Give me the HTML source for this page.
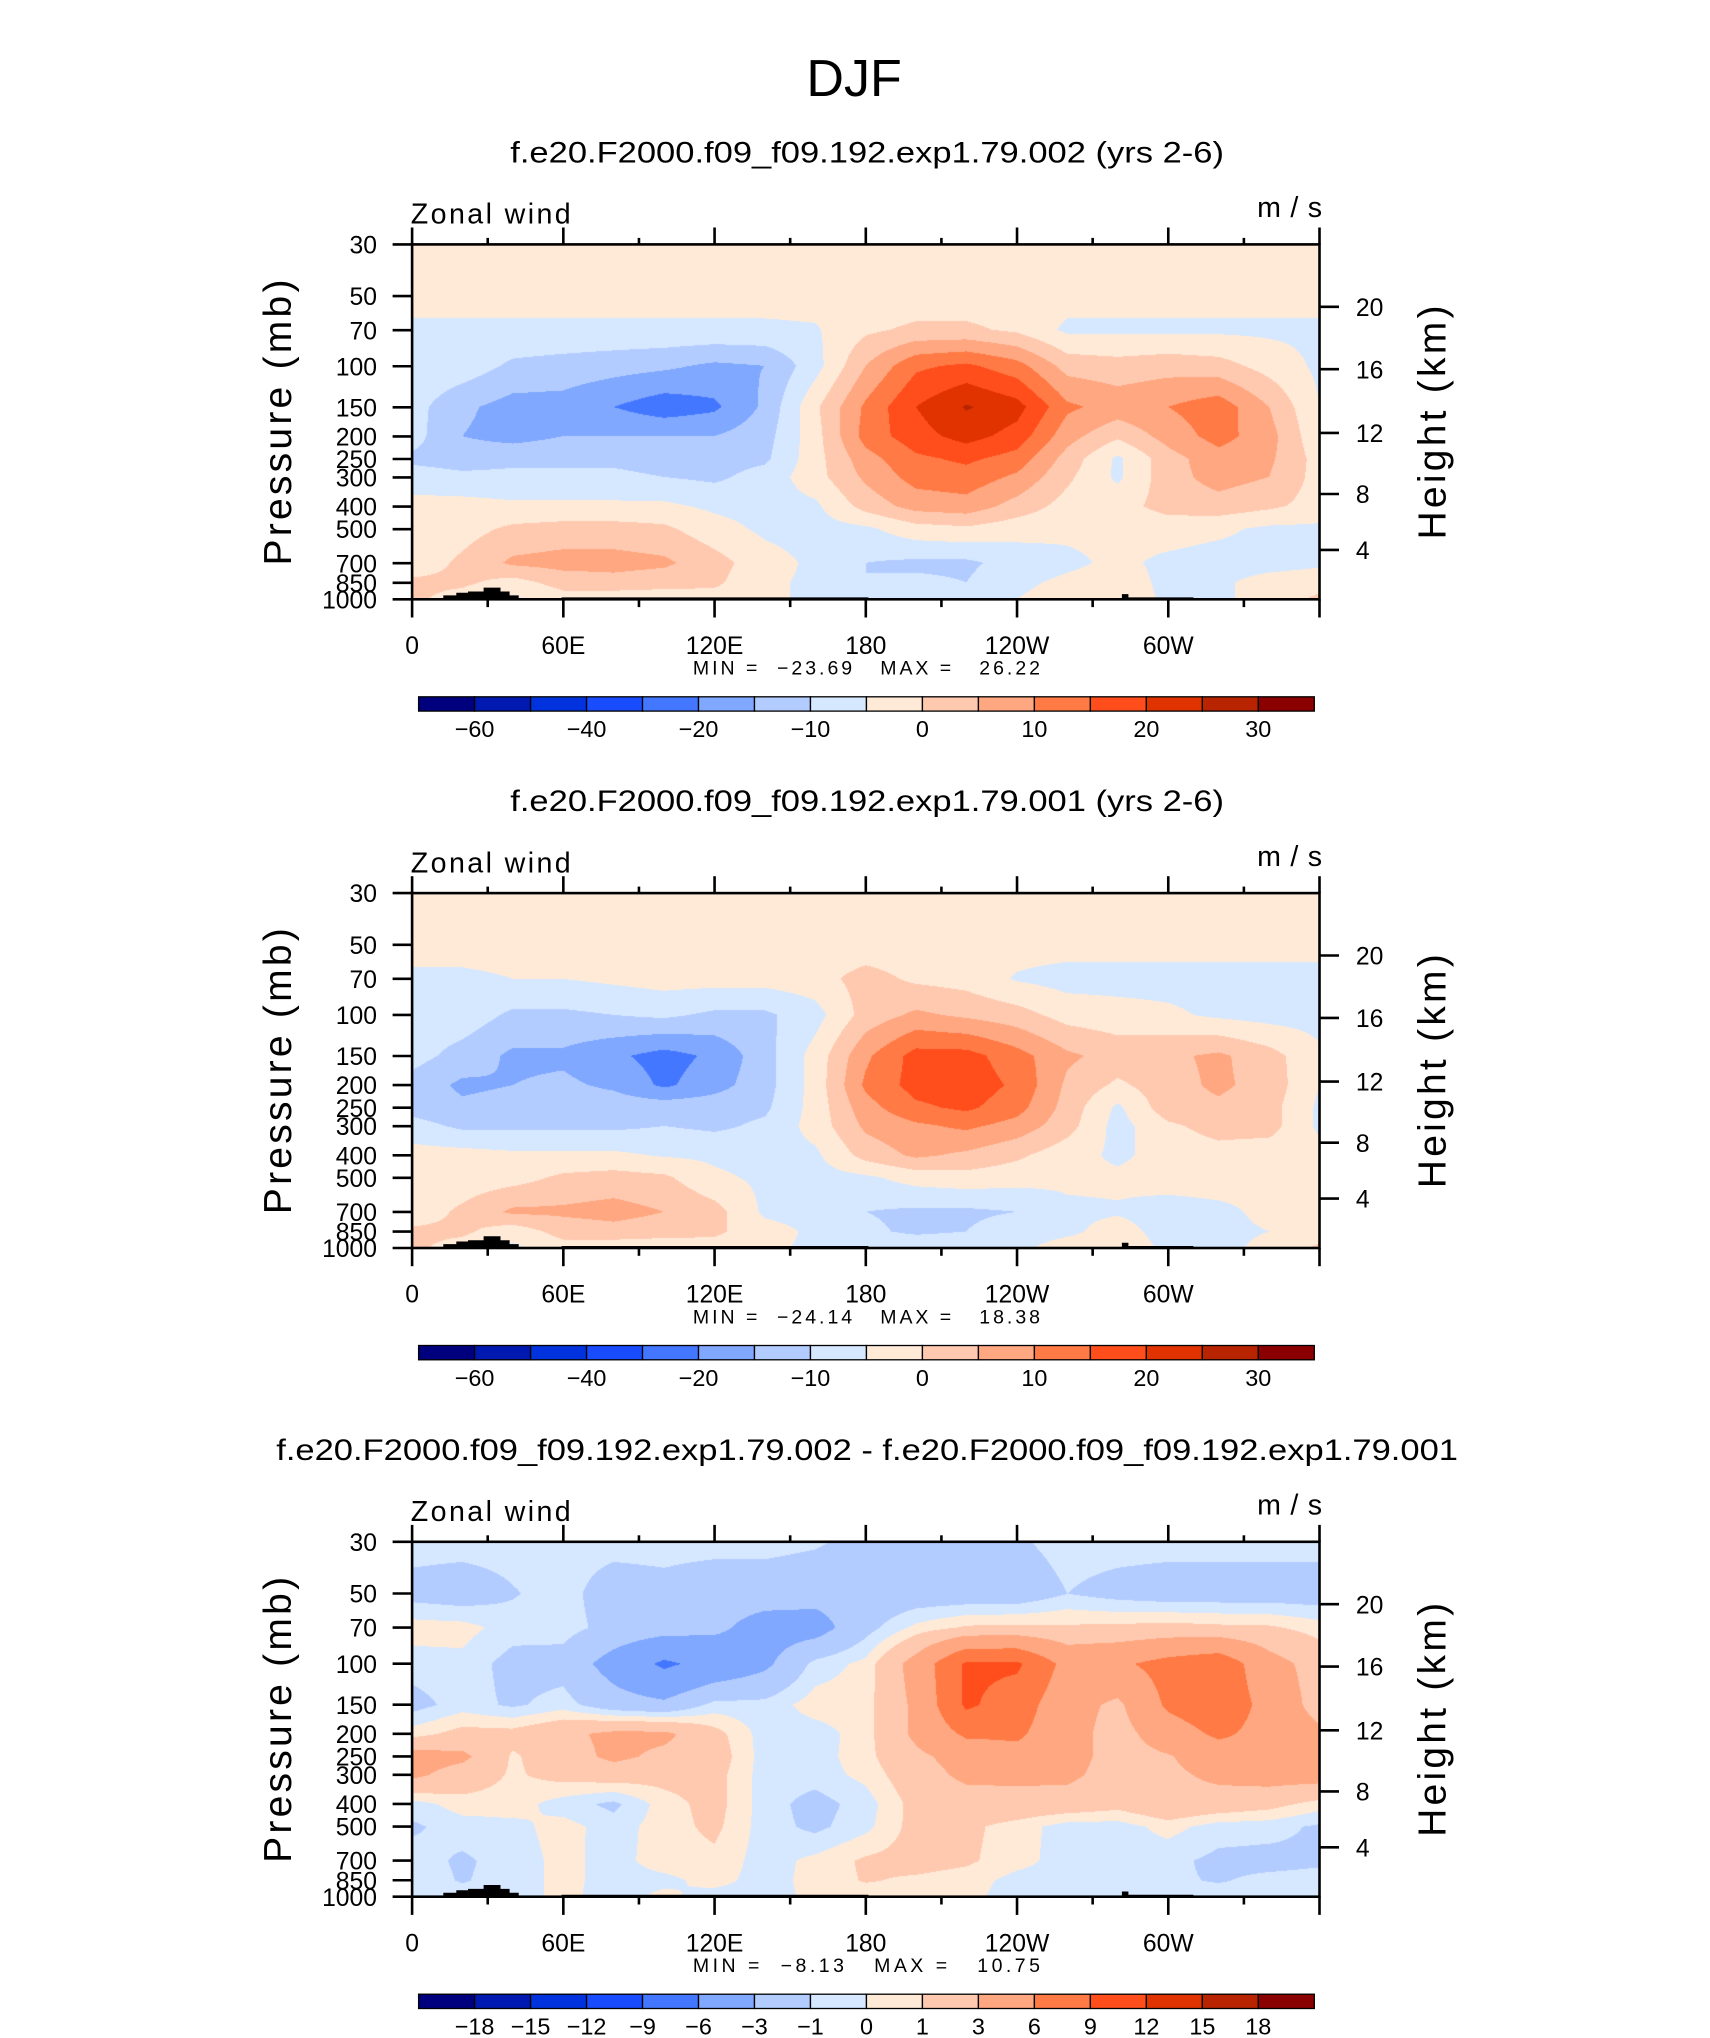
<!DOCTYPE html>
<html><head><meta charset="utf-8"><title>DJF Zonal wind</title>
<style>
body{margin:0;background:#fff}
#root{position:relative;width:1710px;height:2038px;overflow:hidden;background:#fff}
canvas{position:absolute}
svg{position:absolute;left:0;top:0}
text{font-family:"Liberation Sans",sans-serif;fill:#000}
</style></head>
<body>
<div id="root">
<canvas id="f0"></canvas>
<canvas id="f1"></canvas>
<canvas id="f2"></canvas>
<svg id="svg" width="1710" height="2038" viewBox="0 0 1315.38 1567.69">
<text x="657" y="74" font-size="40" text-anchor="middle">DJF</text>
</svg>
</div>
<script>
// ---------- data ----------
const lons=[0,20,40,60,80,100,120,140,160,180,200,220,240,260,280,300,320,340,360];
const plevs=[30,50,70,100,150,200,250,300,400,500,700,850,1000];
const pTickLabels=["30","50","70","100","150","200","250","300","400","500","700","850","1000"];
const kmTicks=[20,16,12,8,4];
const kmTickY=[236,284,333,380,423];
const lonTickVals=[0,60,120,180,240,300];
const lonTickLabels=["0","60E","120E","180","120W","60W"];
const levels1=[-60,-50,-40,-30,-20,-15,-10,-5,0,5,10,15,20,25,30];
const levels3=[-18,-15,-12,-9,-6,-3,-1,0,1,3,6,9,12,15,18];
const cbLabels1=["","−60","","−40","","−20","","−10","","0","","10","","20","","30"];
const cbLabels3=["","−18","−15","−12","−9","−6","−3","−1","0","1","3","6","9","12","15","18"];
const colors=['#00007f','#0019b0','#0033dd','#1a4cff','#4477ff','#80a8ff','#b3ccff','#d6e8ff','#ffead8','#ffc9b0','#ffa780','#ff7a45','#ff4e1c','#e03300','#b82300','#8b0000'];
const titles=["f.e20.F2000.f09_f09.192.exp1.79.002 (yrs 2-6)","f.e20.F2000.f09_f09.192.exp1.79.001 (yrs 2-6)","f.e20.F2000.f09_f09.192.exp1.79.002 - f.e20.F2000.f09_f09.192.exp1.79.001"];
const titleLen=[549,549,909];
const minVals=["−23.69","−24.14","−8.13"];
const maxVals=["26.22","18.38","10.75"];

const u1=[
[-2,-2,-2,-2,-2,-2,-2,-2,-2,-2,-2,-2,-2,-2,-2,-2,-2,-2,-2],
[-3,-3,-3,-3,-3,-3,-3,-3,-3,-3,-3,-3,-3,-3,-3,-3,-3,-3,-3],
[-6,-6,-6,-6,-6,-6,-6,-6,-5.5,-1,1,1,-1,-6,-6,-6,-6,-6,-6],
[-6,-7,-11,-12,-13,-14,-16,-15,-7,5,14,16,12,3,2,3,2,-2,-6],
[-8,-14,-17,-17,-20,-23,-21,-14,-1,11,20,25.5,22,11,8,10,13,5,-5],
[-8,-15,-17,-15,-15,-15,-15,-12,-2,12,18,22,18,7,1,7,12,7,-4],
[-11,-12,-11,-11,-11,-12,-12,-11,-2,8,14,16,13,3,-6,3,8,6,-2],
[-8,-9,-9,-9,-9,-10,-11,-8,-2,6,12,13,9,1,-6,3,7,5,-2],
[-3,-3,-4,-4,-4,-4,-6,-7,-6,2,7,8,3,-2,-2,2,3,1,-2],
[-3,-2,1,2,2,1,-3,-6,-7,-6,-2,-1,-3,-4,-4,-3,-4,-6,-6],
[-3,1,6,7,7,6,2,-3,-6,-10,-11,-11,-8,-6,-4,-6,-7,-7,-6],
[1,1,-2,2,3,2,1,-4,-6,-10,-9,-10,-6,-4,-3,-6,-6,-3,-2],
[1,-2,-6,-2,-3,-3,-2,-4,-6,-6,-6,-6,-5,-3,-2,-6,-6,-3,1]];
const u2=[
[-2,-2,-2,-2,-2,-2,-2,-2,-2,-2,-2,-2,-2,-2,-2,-2,-2,-2,-2],
[-3,-3,-3,-3,-3,-3,-3,-3,-3,-3,-3,-3,-3,-3,-3,-3,-3,-3,-3],
[-6,-6,-5,-5,-4,-3,-3,-3,-2,2,-1,-2,-5.5,-7,-7,-7,-7,-7,-7],
[-7,-7,-11,-11,-10,-9,-11,-11,-7,2,6,4,2,-2,-3,-4,-6,-7,-7],
[-8,-12,-16,-16,-19,-22,-19,-12,-3,9,17,17,12,6,3,4,6,2,-4],
[-12,-16,-15,-14,-16,-21,-17,-12,-3,11,17,18,14,4,-1,3,6,3,-5],
[-12,-14,-13,-12,-12,-12,-12,-11,-3,8,14,16,12,3,-6,3,4,2,-6],
[-8,-11,-11,-11,-11,-10,-11,-9,-3,6,9,11,8,2,-7,-1,2,2,-6],
[-3,-3,-4,-4,-4,-5.5,-6,-7,-6,2,6,4,1,-3,-6,-3,-2,-3,-3],
[-3,-3,-2,1,2,1,-4,-6,-7,-6,-3,-2,-3,-4,-4,-3,-3,-4,-4],
[-3,1,6,6,7,5,2,-6,-7,-10,-11,-11,-10,-6,-5.5,-7,-6,-4,-3],
[1,1,-3,2,3,2,1,-3,-6,-9,-11,-10,-7,-6,-3,-7,-6,-5,-3],
[1,-2,-6,-2,-3,-3,-2,-4,-6,-6,-6,-6,-6,-3,-2,-6,-6,-4,1]];
const du=[
[-0.5,-0.5,-0.5,-0.5,-0.5,-0.5,-0.5,-0.5,-0.8,-1.5,-1.5,-1.5,-1.2,-0.5,-0.5,-0.5,-0.5,-0.5,-0.5],
[-1.5,-1.8,-1.1,-0.5,-1.8,-1.5,-2,-2,-2.2,-2.2,-2,-2,-2,-1,-1.5,-1.8,-1.8,-1.8,-1.8],
[0.5,0.4,-0.5,-0.5,-1.5,-2,-2.5,-4,-4,-1.5,0.3,1.2,1.3,1.2,1.3,1.5,1.3,1.2,0.5],
[-0.5,-0.3,-1.5,-1.6,-4,-6.5,-5,-3.5,-0.6,0.3,4,9.5,9.5,5,5.5,7,8,4,2],
[-1.5,-0.5,-1.2,-0.5,-2,-2.5,-0.6,-0.6,0.5,0.5,3.5,9.5,7.5,4,2.5,6.5,8,5,2],
[0.5,1.5,1.5,2.5,3.5,3.5,1.5,-0.5,-0.5,0.5,3.5,6.5,6.5,4,2,4.5,6.5,5,3.5],
[4,3.5,0.8,2,3.5,2.5,1.8,-0.5,-0.5,0.6,2.5,4,5,4,2,2.8,4.5,5,4.5],
[3.5,2,0.8,1.5,1.8,1.5,1.5,-0.5,-0.5,0.3,2,3.5,3.5,3.5,2,2.5,3.5,4,4],
[-0.5,0.5,0.5,-0.5,-1.3,0.5,1.5,-0.5,-1.5,-0.5,1.5,2,2.2,2,1.5,2.5,2,1.5,0.5],
[-1.2,-0.5,-0.3,0.4,-0.5,0.5,1.3,-0.5,-1.3,-0.3,1.5,1.3,0.5,-0.5,-0.5,0.4,-0.5,-0.6,-1.2],
[-0.5,-1.2,-0.5,0.3,-0.4,0.5,0.7,-0.5,0.3,1.2,1.5,1.2,0.4,-0.5,-0.6,-0.7,-1.3,-1.4,-1.2],
[-0.4,-1.1,-0.5,0.3,-0.4,-0.3,0.4,-0.5,0.4,1.1,0.8,0.5,-0.4,-0.5,-0.6,-0.8,-1.1,-0.7,-0.6],
[-0.5,-0.5,-0.5,0.3,-0.5,0.3,-0.5,-0.5,0.3,0.4,0.4,0.3,-0.5,-0.5,-0.5,-0.5,-0.5,-0.5,-0.5]];

// ---------- layout ----------
const S=1710/1315.38;
const X0=317,X1=1015,Y0=188,PH=273;
const offsets=[0,499,998];
const fields=[u1,u2,du];
const levelSets=[levels1,levels1,levels3];
const cbLabelSets=[cbLabels1,cbLabels1,cbLabels3];
const NS="http://www.w3.org/2000/svg";
const svg=document.getElementById('svg');
const LN=Math.log(1000/30);
function xL(lon){return X0+(X1-X0)*lon/360;}
function yP(p,off){return off+Y0+PH*Math.log(p/30)/LN;}
function mk(tag,attrs,parent){const e=document.createElementNS(NS,tag);for(const k in attrs)e.setAttribute(k,attrs[k]);(parent||svg).appendChild(e);return e;}
function hex(c){return [parseInt(c.substr(1,2),16),parseInt(c.substr(3,2),16),parseInt(c.substr(5,2),16)];}
const rgb=colors.map(hex);

function classify(v,lv){let k=0;for(let i=0;i<lv.length;i++){if(v>=lv[i])k=i+1;}return k;}

function drawField(idx){
  const cv=document.getElementById('f'+idx);
  const off=offsets[idx];
  const W=Math.round((X1-X0)*S),H=Math.round(PH*S);
  cv.width=W;cv.height=H;
  cv.style.left=(X0*S)+'px';cv.style.top=((Y0+off)*S)+'px';
  const ctx=cv.getContext('2d');const img=ctx.createImageData(W,H);
  const data=fields[idx],lv=levelSets[idx];
  const rowY=plevs.map(p=>yP(p,0));
  const dl=lons[1]-lons[0];
  for(let py=0;py<H;py++){
    const dy=Y0+(py+0.5)/S;
    let i=0;while(i<rowY.length-2&&dy>rowY[i+1])i++;
    let t=(dy-rowY[i])/(rowY[i+1]-rowY[i]);t=Math.max(0,Math.min(1,t));
    for(let px=0;px<W;px++){
      const lon=((px+0.5)/S)/(X1-X0)*360;
      let j=Math.min(lons.length-2,Math.floor(lon/dl));
      let s=(lon-lons[j])/dl;s=Math.max(0,Math.min(1,s));
      const a=data[i][j],b=data[i][j+1],c=data[i+1][j],d=data[i+1][j+1];
      const v=(a*(1-s)+b*s)*(1-t)+(c*(1-s)+d*s)*t;
      const col=rgb[classify(v,lv)];
      const q=(py*W+px)*4;img.data[q]=col[0];img.data[q+1]=col[1];img.data[q+2]=col[2];img.data[q+3]=255;
    }
  }
  ctx.putImageData(img,0,0);
}

function drawPanel(idx){
  const off=offsets[idx];
  const g=mk('g',{});
  
  
  const tt=mk('text',{x:667,y:125+off,'font-size':23,'text-anchor':'middle',textLength:titleLen[idx],lengthAdjust:'spacingAndGlyphs'},g);
  
  
  tt.textContent=titles[idx];
  const zw=mk('text',{x:316,y:172+off,'font-size':22,textLength:123,lengthAdjust:'spacing'},g);
  
  
  zw.textContent='Zonal wind';
  const un=mk('text',{x:967,y:167+off,'font-size':22,textLength:50,lengthAdjust:'spacing'},g);
  
  
  un.textContent='m/s';
  // terrain
  const ter=mk('path',{d:`M341 ${461+off} L341 ${458+off} L351 ${458+off} L351 ${456+off} L360 ${456+off} L360 ${455+off} L372 ${455+off} L372 ${452+off} L385 ${452+off} L385 ${455+off} L392 ${455+off} L392 ${458+off} L399 ${458+off} L399 ${461+off} Z M432 ${461+off} L432 ${459.5+off} L668 ${459.5+off} L668 ${461+off} Z M863 ${461+off} L863 ${457+off} L868 ${457+off} L868 ${459.5+off} L918 ${459.5+off} L918 ${461+off} Z`,fill:'#000'},g);
  
  
  // frame
  const fr=mk('rect',{x:X0,y:Y0+off,width:X1-X0,height:PH,fill:'none',stroke:'#000','stroke-width':2},g);
  
  
  // pressure ticks
  plevs.forEach((p,k)=>{
    const y=yP(p,off);
    const tk=mk('line',{x1:302,x2:X0,y1:y,y2:y,stroke:'#000','stroke-width':2},g);
    
    
    const tl=mk('text',{x:290,y:y+7,'font-size':19,'text-anchor':'end'},g);
    
    
    tl.textContent=pTickLabels[k];
  });
  // height ticks
  kmTicks.forEach((km,k)=>{
    const y=kmTickY[k]+off;
    const tk=mk('line',{x1:X1,x2:1030,y1:y,y2:y,stroke:'#000','stroke-width':2},g);
    
    
    const tl=mk('text',{x:1043,y:y+7,'font-size':19},g);
    
    
    tl.textContent=String(km);
  });
  // lon ticks
  for(let lon=0;lon<=360;lon+=30){
    const x=xL(lon);const major=lon%60===0;
    const t1=mk('line',{x1:x,x2:x,y1:Y0+off,y2:Y0+off-(major?13:5),stroke:'#000','stroke-width':2},g);
    
    
    const t2=mk('line',{x1:x,x2:x,y1:Y0+PH+off,y2:Y0+PH+off+(major?14:6),stroke:'#000','stroke-width':2},g);
    
    
  }
  lonTickVals.forEach((lon,k)=>{
    const tl=mk('text',{x:xL(lon),y:503+off,'font-size':19,'text-anchor':'middle'},g);
    
    
    tl.textContent=lonTickLabels[k];
  });
  // axis titles
  const pt=mk('text',{x:0,y:0,'font-size':30,'text-anchor':'middle',textLength:220,lengthAdjust:'spacing',transform:`translate(224 ${325+off}) rotate(-90)`},g);
  
  
  pt.textContent='Pressure (mb)';
  const ht=mk('text',{x:0,y:0,'font-size':30,'text-anchor':'middle',textLength:180,lengthAdjust:'spacing',transform:`translate(1112 ${325+off}) rotate(-90)`},g);
  
  
  ht.textContent='Height (km)';
  // min/max
  const mm=mk('text',{x:533,y:519+off,'font-size':15,textLength:267,lengthAdjust:'spacing'},g);
  
  
  mm.textContent='MIN\u00a0=\u00a0\u00a0'+minVals[idx]+'\u00a0\u00a0\u00a0MAX\u00a0=\u00a0\u00a0\u00a0'+maxVals[idx];
  // colorbar
  const cb=mk('g',{},g);
  
  
  const cx0=322,cx1=1011,cy=536+off,ch=11,bw=(cx1-cx0)/colors.length;
  colors.forEach((c,k)=>{
    const r=mk('rect',{x:cx0+k*bw,y:cy,width:bw,height:ch,fill:c,stroke:'#000','stroke-width':1},cb);
    
    
  });
  cbLabelSets[idx].forEach((lab,k)=>{
    if(!lab)return;
    const t=mk('text',{x:cx0+k*bw,y:567+off,'font-size':18,'text-anchor':'middle'},cb);
    
    
    t.textContent=lab;
  });
}
for(let i=0;i<3;i++){drawField(i);drawPanel(i);}
</script>
</body></html>
